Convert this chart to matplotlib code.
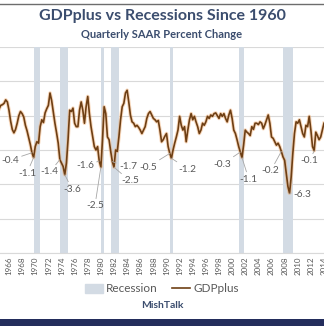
import numpy as np
import pandas as pd
import matplotlib
matplotlib.use('Agg')
import matplotlib.pyplot as plt
from matplotlib.patches import Patch, Rectangle
from matplotlib.lines import Line2D

plt.rcParams['font.family'] = ['Lato', 'DejaVu Sans']

# ─── DATA ────────────────────────────────────────────────────────────────
START_QTR = '1964Q3'
gdpplus = [
    6.0, 6.5,
    6.6, 6.8, 7.3, 7.0,     # 1965
    5.8, 4.2, 3.0, 2.5,     # 1966
    3.0, 3.9, 5.0, 5.6,     # 1967
    5.3, 4.8, 3.6, 2.8,     # 1968
    1.8, 0.8, -0.4, -1.1,   # 1969
    0.5, 1.2, 1.0, 3.4,     # 1970
    4.4, 4.0, 5.4, 6.0,     # 1971
    6.5, 8.3, 7.2, 5.5,     # 1972
    3.9, 2.5, 1.0, -1.4,    # 1973
    -1.9, -2.4, -3.6, -1.9, # 1974
    1.5, 5.8, 5.6, 6.1,     # 1975
    3.9, 3.4, 3.4, 5.8,     # 1976
    7.0, 5.8, 3.9, 6.3,     # 1977
    7.8, 5.3, 3.4, 1.9,     # 1978
    0.5, 0.0, 0.5, -1.6,    # 1979
    -2.5, 1.5, 6.3, 5.3,    # 1980
    1.9, 1.5, -0.2, -1.7,   # 1981
    -2.5, 0.0, -0.2, 1.9,   # 1982
    4.4, 6.3, 6.8, 8.3,     # 1983
    8.7, 7.0, 5.1, 4.1,     # 1984
    3.9, 3.4, 3.6, 3.3,     # 1985
    2.9, 2.4, 2.9, 3.4,     # 1986
    4.6, 5.3, 5.6, 5.1,     # 1987
    4.6, 4.4, 4.1, 4.3,     # 1988
    2.9, 1.2, 1.5, 2.0,     # 1989
    2.4, 0.5, -0.5, -1.2,   # 1990
    0.0, 1.0, 1.9, 2.9,     # 1991
    4.9, 3.6, 2.9, 3.4,     # 1992
    1.2, 2.9, 4.4, 5.3,     # 1993
    4.4, 4.9, 4.1, 3.4,     # 1994
    2.4, 2.9, 3.9, 3.6,     # 1995
    4.1, 4.9, 4.6, 5.1,     # 1996
    4.9, 5.3, 5.4, 5.0,     # 1997
    4.6, 5.3, 4.9, 5.3,     # 1998
    4.6, 4.1, 5.1, 5.8,     # 1999
    4.6, 2.9, 2.4, 1.5,     # 2000
    0.5, -0.3, -1.1, 0.7,   # 2001
    2.9, 2.6, 2.4, 2.1,     # 2002
    3.4, 3.0, 3.9, 3.9,     # 2003
    3.7, 4.1, 3.9, 3.1,     # 2004
    3.7, 4.4, 5.1, 3.9,     # 2005
    1.9, 1.7, 1.2, 0.7,     # 2006
    1.0, 0.5, -0.2, -1.0,   # 2007
    -1.5, -3.4, -5.3, -6.3, # 2008
    -3.9, -0.5, 2.4, 4.1,   # 2009
    3.9, 4.4, 3.4, 2.4,     # 2010
    1.9, 3.6, 3.4, 4.9,     # 2011
    2.9, 0.5, -0.1, 2.6,    # 2012
    2.1, 1.5, 1.9, 2.9,     # 2013
    3.9,                    # 2014
]

# NBER recessions (first quarter, last quarter)
recessions = [
    ('1969Q4', '1970Q4'),
    ('1973Q4', '1975Q1'),
    ('1980Q1', '1980Q3'),
    ('1981Q3', '1982Q4'),
    ('1990Q3', '1991Q1'),
    ('2001Q1', '2001Q4'),
    ('2007Q4', '2009Q2'),
]

# labelled quarters
label_qtrs = ['1969Q3', '1969Q4', '1973Q4', '1974Q3', '1979Q4', '1980Q1',
              '1981Q4', '1982Q1', '1990Q3', '1990Q4', '2001Q2', '2001Q3',
              '2007Q3', '2008Q4', '2012Q3']
# text offsets in points (layout only)
label_offsets = [(-15.8, -5.3), (-4.8, -11.2), (-7.2, -8.9), (5.2, -10.3),
                 (-10.3, -3.6), (-4.3, -27.9), (11.2, -3.8), (11.4, -9.9),
                 (-15.8, -9.8), (11.8, -7.8), (-12.7, -8.6), (4.9, -15.5),
                 (-7.7, -14.1), (9.4, -0.6), (-3.2, -7.4)]

year_ticks = list(range(1966, 2016, 2))

# ─── HELPERS ─────────────────────────────────────────────────────────────
def qpos(p):
    p = pd.Period(p, freq='Q')
    return p.year + (p.quarter - 1) / 4.0

periods = pd.period_range(START_QTR, periods=len(gdpplus), freq='Q')
x = np.array([p.year + (p.quarter - 1) / 4.0 for p in periods])
series = pd.Series(gdpplus, index=[str(p) for p in periods])

TITLE_C = '#3b4d6e'
GRAY_T = '#595959'
BAR_C = '#d3dbe4'

# ─── FIGURE ──────────────────────────────────────────────────────────────
W, H = 324, 326
fig = plt.figure(figsize=(W / 100, H / 100), dpi=100, facecolor='white')
ax = fig.add_axes([0, (H - 253) / H, 1, (253 - 47) / H])

for a, b in recessions:
    ax.axvspan(qpos(a), qpos(b), color=BAR_C, lw=0, zorder=1)

ax.set_ylim(-15, 15)
ax.set_yticks(range(-15, 16, 5))
ax.yaxis.grid(True, color='#d9d9d9', lw=0.8)
ax.set_axisbelow(True)
ax.set_xlim(1964.63, 2013.95)

ax.plot(x, gdpplus, color='#f0a868', lw=2.6, alpha=0.45, zorder=3,
        solid_joinstyle='round')
ax.plot(x, gdpplus, color='#6e3f14', lw=1.2, zorder=4,
        solid_joinstyle='round')

for q, (dx, dy) in zip(label_qtrs, label_offsets):
    v = series[q]
    ax.annotate(f'{v:.1f}', xy=(qpos(q), v), xytext=(dx, dy),
                textcoords='offset points', ha='center', va='center',
                fontsize=7.3, color=GRAY_T, zorder=5,
                arrowprops=dict(arrowstyle='-', color='#a6a6a6', lw=0.6,
                                shrinkA=0, shrinkB=0))

ax.set_xticks(year_ticks)
ax.set_xticklabels([str(y) for y in year_ticks], rotation=90,
                   fontsize=5.8, color=GRAY_T)
ax.tick_params(axis='x', length=0, pad=2.5)
ax.tick_params(axis='y', length=0, labelleft=False)
for s in ['top', 'left', 'right']:
    ax.spines[s].set_visible(False)
ax.spines['bottom'].set_color('#d9d9d9')
ax.spines['bottom'].set_linewidth(0.8)

# titles
fig.text(0.5, 1 - 16 / H, 'GDPplus vs Recessions Since 1960', ha='center',
         va='center', fontsize=11.5, fontweight='bold', color=TITLE_C)
fig.text(0.5, 1 - 34 / H, 'Quarterly SAAR Percent Change', ha='center',
         va='center', fontsize=8, fontweight='bold', color=TITLE_C)
fig.text(0.5, 1 - 305 / H, 'MishTalk', ha='center', va='center',
         fontsize=7.5, fontweight='bold', color=TITLE_C)

handles = [Patch(color=BAR_C, label='Recession'),
           Line2D([], [], color='#6e3f14', lw=1.2, label='GDPplus')]
fig.legend(handles=handles, loc='center', bbox_to_anchor=(0.5, 1 - 289 / H),
           ncol=2, frameon=False, fontsize=8.5, labelcolor=GRAY_T,
           handlelength=1.5, handletextpad=0.3, columnspacing=1.2)

# frame decorations
fig.add_artist(Line2D([0, 1], [1 - 4 / H, 1 - 4 / H], color='#6d6d6d', lw=1,
                      transform=fig.transFigure))
fig.add_artist(Rectangle((0, 0), 1, 7 / H, color='#232d5c',
                         transform=fig.transFigure, lw=0))

fig.savefig('out.png', dpi=100, facecolor='white')
